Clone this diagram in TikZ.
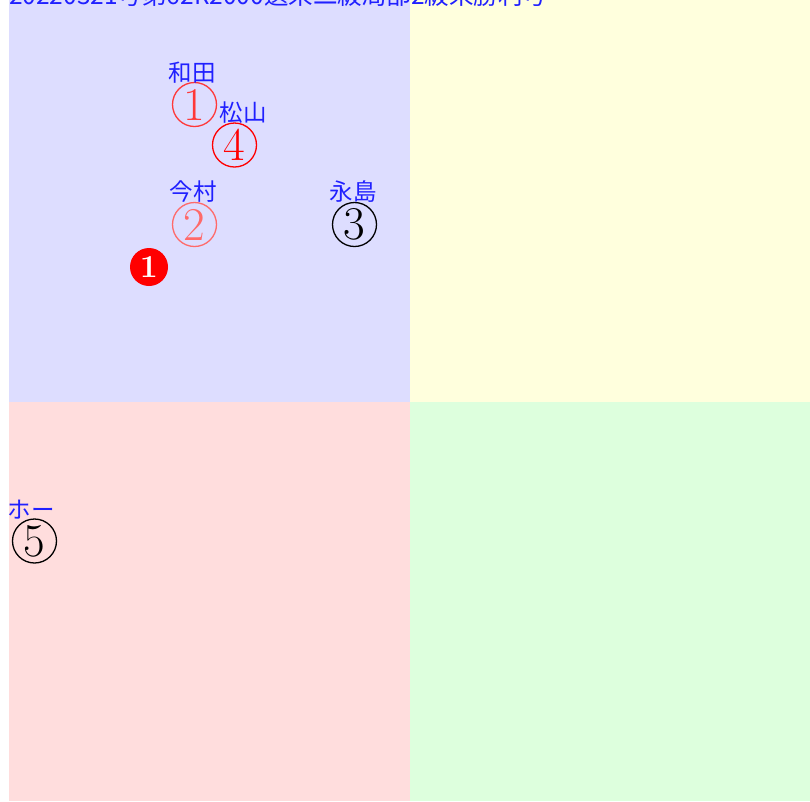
\documentclass[tikz,border=0pt]{standalone}
\usepackage{fontspec}
\newfontfamily\jpfont{Noto Sans CJK JP}
\definecolor{qblue}{HTML}{DDDDFF}
\definecolor{qyellow}{HTML}{FFFFDD}
\definecolor{qpink}{HTML}{FFDDDD}
\definecolor{qgreen}{HTML}{DDFFDD}
\definecolor{labblue}{HTML}{2020FF}
\definecolor{redA}{HTML}{FF3838}
\definecolor{redB}{HTML}{FF0000}
\definecolor{redC}{HTML}{FF6A6A}
\tikzset{
  lab/.style={text=labblue, font=\jpfont\fontsize{23.5}{23.5}\selectfont, inner sep=0pt},
  marker/.style={circle, draw=#1, text=#1, line width=1.3pt, minimum size=44pt, inner sep=0pt,
                 font=\fontsize{47}{47}\selectfont},
  solidmark/.style={circle, fill=redB, text=white, minimum size=38pt, inner sep=0pt,
                 font=\bfseries\fontsize{32}{32}\selectfont},
  title/.style={text=labblue, font=\jpfont\fontsize{24.5}{24.5}\selectfont, inner sep=0pt, anchor=base west}
}
\begin{document}
\begin{tikzpicture}[x=1pt,y=-1pt]
\useasboundingbox (0,0) rectangle (810,801);
\fill[qblue] (9,0) rectangle (409.5,401.5);
\fill[qyellow] (409.5,0) rectangle (810,401.5);
\fill[qpink] (9,401.5) rectangle (409.5,801);
\fill[qgreen] (409.5,401.5) rectangle (810,801);
\node[title] (ttl) at (9,4) {20220321号第62R2000選来二級局部2級来勝利号};
% markers
\node[marker=redA] (m1) at (194.5,104.5) {1};
\node[marker=redB] (m4) at (234.5,145) {4};
\node[marker=redC] (m2) at (194.5,224.5) {2};
\node[marker=black] (m3) at (354.5,224.5) {3};
\node[marker=black] (m5) at (34.5,541) {5};
\node[solidmark] (s1) at (149,267) {1};
% labels
\node[lab] (l1) at (192,72.5) {和田};
\node[lab] (l4) at (243,113) {松山};
\node[lab] (l2) at (193,192) {今村};
\node[lab] (l3) at (353,192) {永島};
\node[lab] (l5) at (31,510) {ホー};
\end{tikzpicture}
\end{document}
